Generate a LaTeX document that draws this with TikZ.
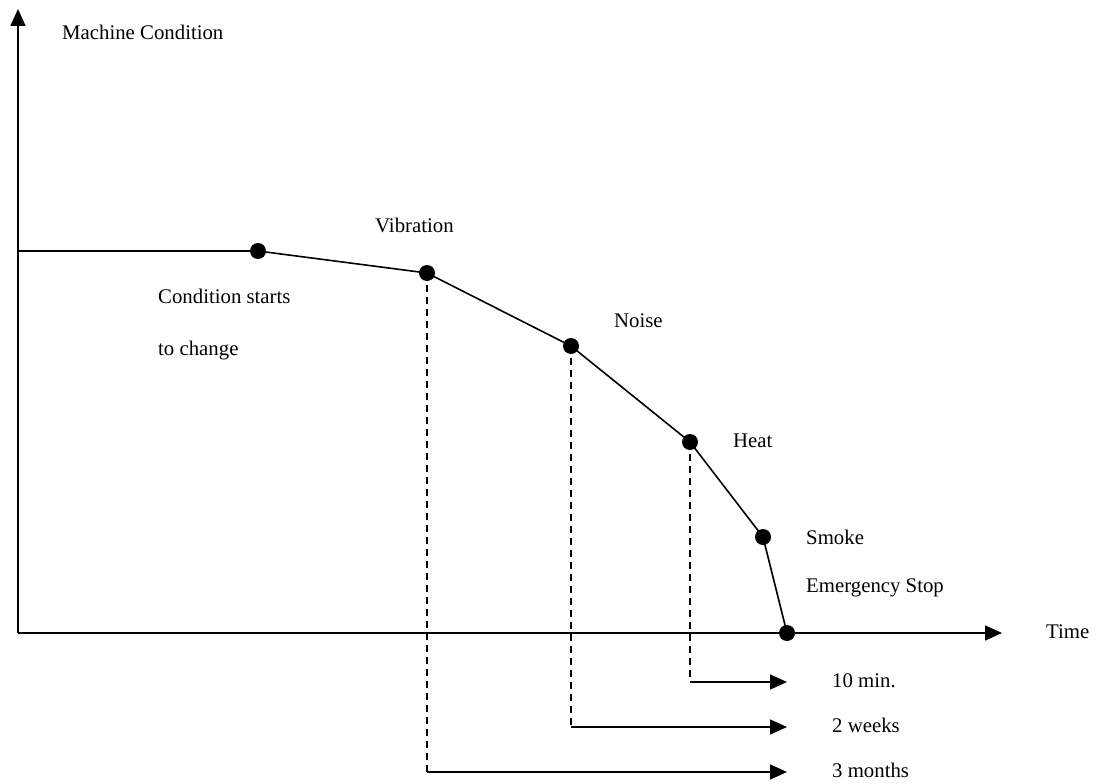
\documentclass[tikz,border=0pt]{standalone}
\usepackage{fontspec}
\setmainfont{Liberation Serif}
\usetikzlibrary{arrows.meta}
\begin{document}
\begin{tikzpicture}[x=1pt,y=-1pt,
  lbl/.style={anchor=base west,inner sep=0pt,font=\fontsize{20.8}{24}\selectfont},
  dot/.style={circle,fill=black,inner sep=0pt,minimum size=16pt},
  solidline/.style={line width=1.6pt},
  dashline/.style={line width=1.4pt,dash pattern=on 7pt off 5pt},
  arr/.style={line width=1.6pt,-{Triangle[length=17pt,width=15pt]}}]
\useasboundingbox (0,0) rectangle (1104,784);
% axes
\coordinate (o) at (18,633);
\coordinate (ytip) at (18,9);
\coordinate (xtip) at (1002,633);
\coordinate (h0) at (18,251);
\draw[arr] (o) -- (ytip);
\draw[arr] (o) -- (xtip);
% points
\node[dot] (p1) at (258,251) {};
\node[dot] (p2) at (427,273) {};
\node[dot] (p3) at (571,346) {};
\node[dot] (p4) at (690,442) {};
\node[dot] (p5) at (763,537) {};
\node[dot] (p6) at (787,633) {};
\draw[solidline] (h0) -- (p1.center) -- (p2.center) -- (p3.center) -- (p4.center) -- (p5.center) -- (p6.center);
% dashed drops and arrows
\coordinate (c4) at (690,682);
\coordinate (e4) at (787,682);
\coordinate (c3) at (571,727);
\coordinate (e3) at (787,727);
\coordinate (c2) at (427,772);
\coordinate (e2) at (787,772);
\draw[dashline] (p4.center) -- (c4);
\draw[dashline] (p3.center) -- (c3);
\draw[dashline] (p2.center) -- (c2);
\draw[arr] (c4) -- (e4);
\draw[arr] (c3) -- (e3);
\draw[arr] (c2) -- (e2);
% labels
\node[lbl] (tmc) at (62,40) {Machine Condition};
\node[lbl] (tvib) at (375,232) {Vibration};
\node[lbl] (tcs) at (158,303) {Condition starts};
\node[lbl] (ttc) at (158,355) {to change};
\node[lbl] (tnoise) at (614,327) {Noise};
\node[lbl] (theat) at (733,447) {Heat};
\node[lbl] (tsmoke) at (806,544) {Smoke};
\node[lbl] (tes) at (806,592) {Emergency Stop};
\node[lbl] (ttime) at (1046,638) {Time};
\node[lbl] (t10) at (832,687) {10 min.};
\node[lbl] (t2w) at (832,732) {2 weeks};
\node[lbl] (t3m) at (832,777) {3 months};
\end{tikzpicture}
\end{document}
